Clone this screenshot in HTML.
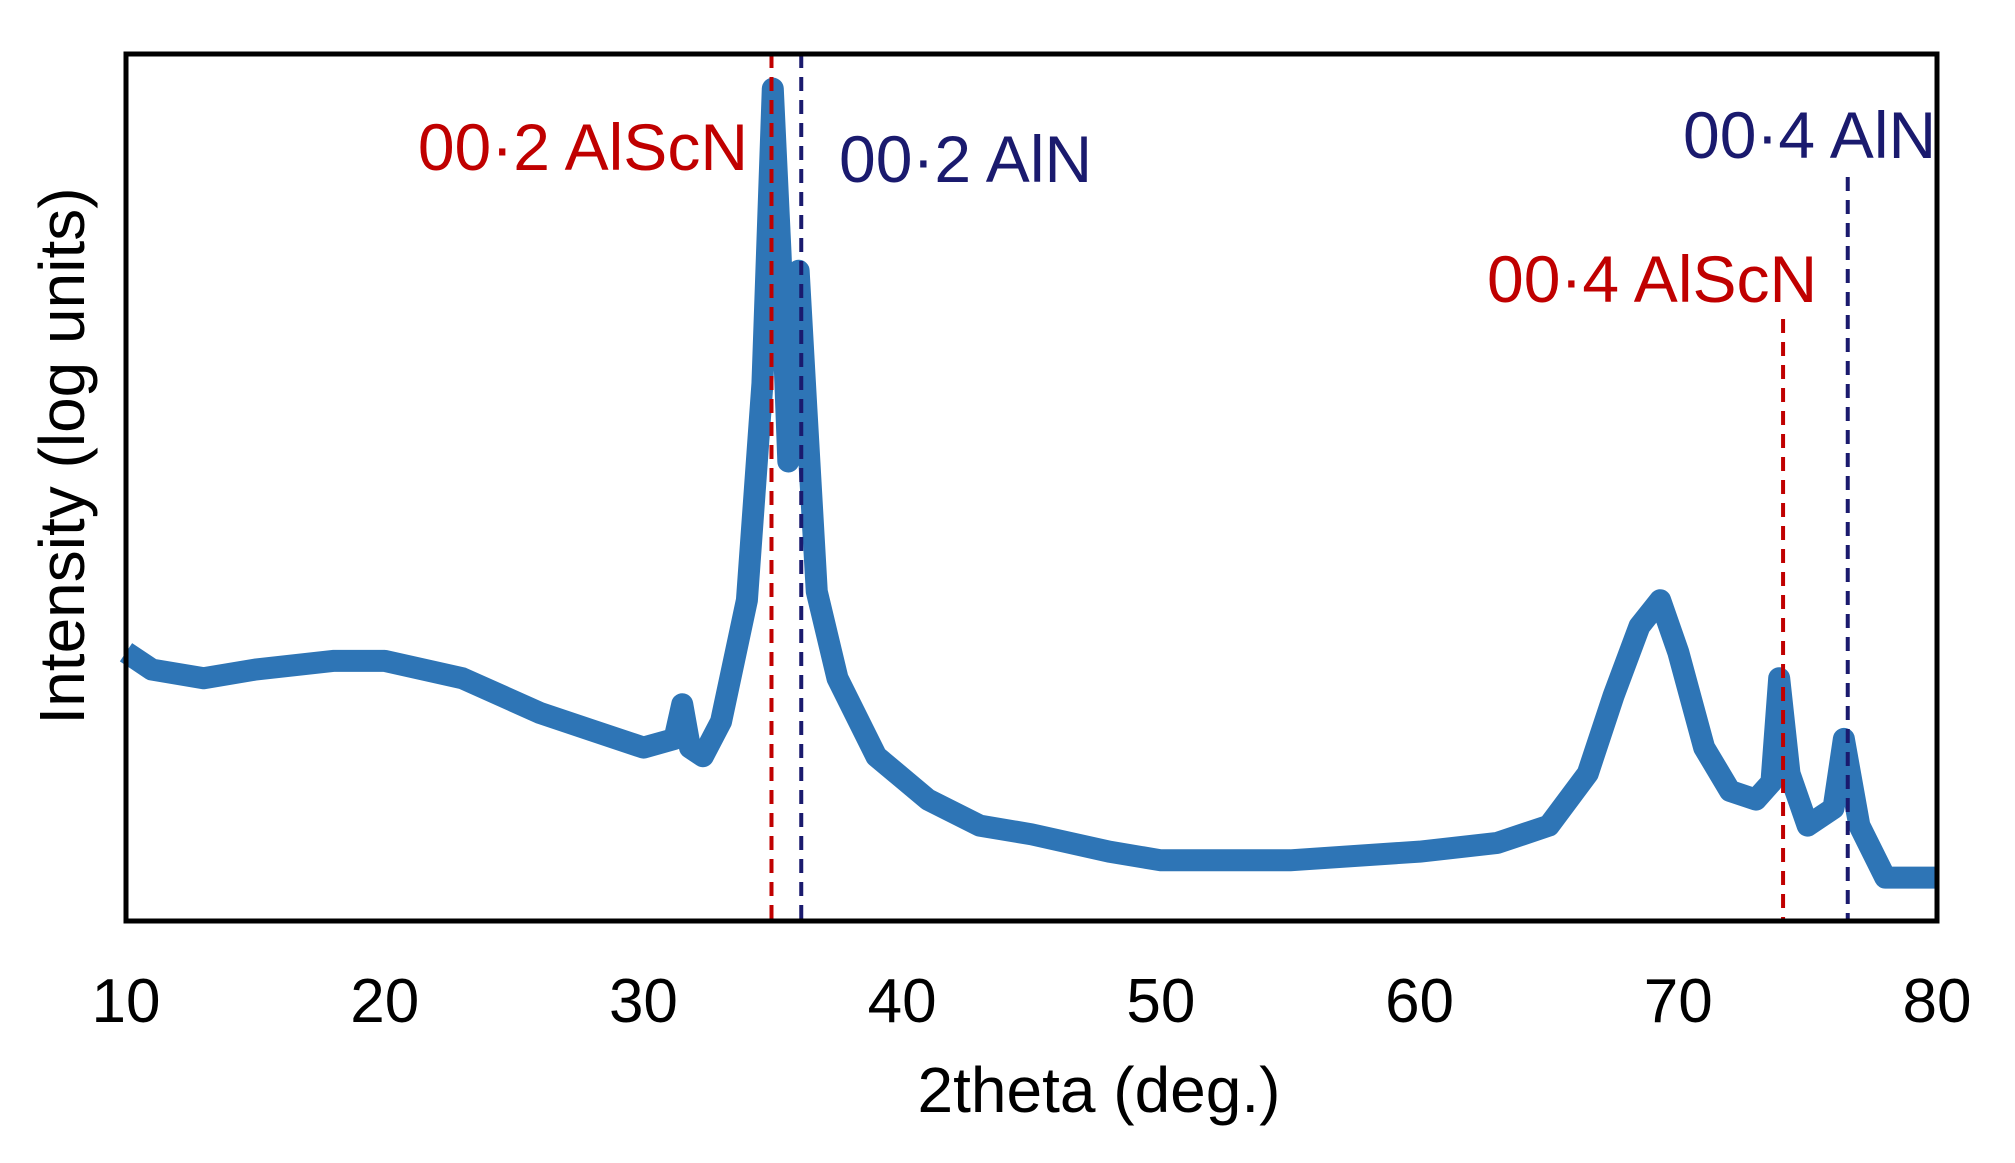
<!DOCTYPE html>
<html><head><meta charset="utf-8"><style>
body{margin:0;background:#fff;}
svg{display:block;font-family:"Liberation Sans",Arial,sans-serif;}
</style></head><body>
<svg id="chart" width="2015" height="1163" viewBox="0 0 2015 1163">
<g id="marks"></g>
<rect x="126" y="54" width="1811" height="867" fill="none" stroke="#000" stroke-width="5"/>
<g id="ticks"></g>
<text x="1099" y="1112" font-size="64" text-anchor="middle">2theta (deg.)</text>
<text transform="translate(84,456) rotate(-90)" font-size="64" text-anchor="middle">Intensity (log units)</text>
<text x="748" y="170" font-size="66" fill="#c00000" text-anchor="end">00·2 AlScN</text>
<text x="839" y="182" font-size="66" fill="#1a1a6e">00·2 AlN</text>
<text x="1683" y="158" font-size="66" fill="#1a1a6e">00·4 AlN</text>
<text x="1487" y="302" font-size="66" fill="#c00000">00·4 AlScN</text>
</svg>
<script>
const xs=[10,11,13,15,18,20,23,26,28,30,31.2,31.5,31.8,32.3,33,34,34.6,35,35.3,35.6,36,36.3,36.7,37.5,39,41,43,45,48,50,55,60,63,65,66.5,67.5,68.5,69.3,70,71,72,73,73.6,73.9,74.3,75,76,76.4,77,78,80];
const ys=[31,29,28,29,30,30,28,24,22,20,21,25,20,19,23,37,62,96,77,53,75,59,38,28,19,14,11,10,8,7,7,8,9,11,17,26,34,37,31,20,15,14,16,28,17,11,13,21,11,5,5];
const xTicks=[10,20,30,40,50,60,70,80];
const refLines=[{x:34.95,top:54,c:"#c00000",n:"ref-002-alscn"},{x:36.1,top:54,c:"#1a1a6e",n:"ref-002-aln"},{x:74.05,top:319,c:"#c00000",n:"ref-004-alscn"},{x:76.55,top:177,c:"#1a1a6e",n:"ref-004-aln"}];
const NS="http://www.w3.org/2000/svg";
const X=v=>126+(v-10)/70*1811, Y=v=>921-v/100*867;
const marks=document.getElementById('marks'), ticks=document.getElementById('ticks');
const pl=document.createElementNS(NS,'polyline');


pl.setAttribute('points',xs.map((x,i)=>X(x)+','+Y(ys[i])).join(' '));
pl.setAttribute('fill','none');pl.setAttribute('stroke','#2e75b6');pl.setAttribute('stroke-width','22');pl.setAttribute('stroke-linejoin','round');
marks.appendChild(pl);
refLines.forEach(r=>{const l=document.createElementNS(NS,'line');


l.setAttribute('x1',X(r.x));l.setAttribute('x2',X(r.x));l.setAttribute('y1',r.top);l.setAttribute('y2',921);
l.setAttribute('stroke',r.c);l.setAttribute('stroke-width','4');l.setAttribute('stroke-dasharray','14,9');marks.appendChild(l);});
xTicks.forEach(t=>{const tx=document.createElementNS(NS,'text');


tx.setAttribute('x',X(t));tx.setAttribute('y',1022);tx.setAttribute('font-size','62');tx.setAttribute('text-anchor','middle');tx.textContent=t;ticks.appendChild(tx);});
</script>
</body></html>
